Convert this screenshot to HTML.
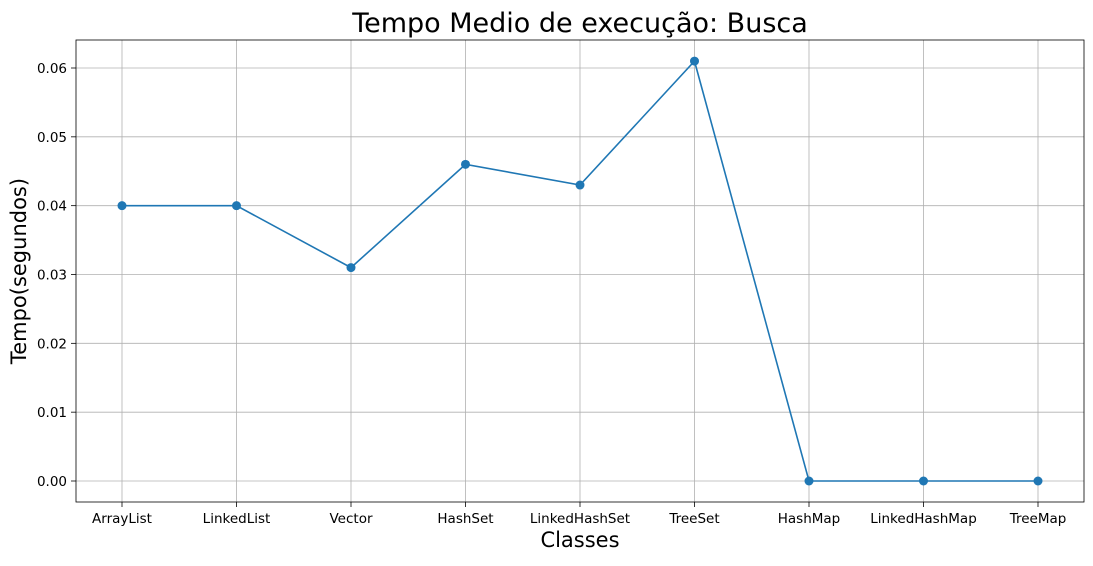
<!DOCTYPE html>
<html><head><meta charset="utf-8"><style>
body{margin:0;background:#fff;}
svg text{font-family:"DejaVu Sans","Liberation Sans",sans-serif;}
</style></head><body>
<svg id="chart" width="1093" height="561" xmlns="http://www.w3.org/2000/svg">
<rect width="1093" height="561" fill="#fff"/>
<g id="grid"></g>
<g id="axes"></g>
<g id="series"></g>
<text x="580" y="32" text-anchor="middle" font-size="27">Tempo Medio de execução: Busca</text>
<text x="580" y="547" text-anchor="middle" font-size="21">Classes</text>
<text transform="translate(26,271) rotate(-90)" text-anchor="middle" font-size="21">Tempo(segundos)</text>
</svg>
<script>
const categories=["ArrayList","LinkedList","Vector","HashSet","LinkedHashSet","TreeSet","HashMap","LinkedHashMap","TreeMap"];
const values=[0.040,0.040,0.031,0.046,0.043,0.061,0,0,0];
const yTicks=[0,0.01,0.02,0.03,0.04,0.05,0.06];
const yTickLabels=["0.00","0.01","0.02","0.03","0.04","0.05","0.06"];
const NS="http://www.w3.org/2000/svg";
const L=76,R=1084,T=40,B=502;
function xs(i){return 122+i*(1038-122)/(categories.length-1);}
function ys(v){return 481-v*(481-68)/0.06;}
function mk(tag,attrs,parent){const e=document.createElementNS(NS,tag);for(const k in attrs)e.setAttribute(k,attrs[k]);parent.appendChild(e);return e;}
const grid=document.getElementById('grid'),axes=document.getElementById('axes'),series=document.getElementById('series');
categories.forEach((c,i)=>{
 const g=mk('line',{x1:xs(i),x2:xs(i),y1:T,y2:B,stroke:'#b0b0b0','stroke-width':0.8},grid);
 
 
 const t=mk('line',{x1:xs(i),x2:xs(i),y1:B,y2:B+5,stroke:'#000','stroke-width':0.8},axes);
 
 
 const tx=mk('text',{x:xs(i),y:B+21,'text-anchor':'middle','font-size':13.5},axes);
 tx.textContent=c;
 
 
});
yTicks.forEach((v,i)=>{
 const g=mk('line',{x1:L,x2:R,y1:ys(v),y2:ys(v),stroke:'#b0b0b0','stroke-width':0.8},grid);
 
 
 const t=mk('line',{x1:L-5,x2:L,y1:ys(v),y2:ys(v),stroke:'#000','stroke-width':0.8},axes);
 
 
 const tx=mk('text',{x:L-9,y:ys(v)+5,'text-anchor':'end','font-size':13.5},axes);
 tx.textContent=yTickLabels[i];
 
 
});
const frame=mk('rect',{x:L,y:T,width:R-L,height:B-T,fill:'none',stroke:'#000','stroke-width':0.8},axes);


const pl=mk('polyline',{points:values.map((v,i)=>xs(i)+','+ys(v)).join(' '),fill:'none',stroke:'#1f77b4','stroke-width':1.6},series);


values.forEach((v,i)=>{
 const c=mk('circle',{cx:xs(i),cy:ys(v),r:4.5,fill:'#1f77b4'},series);
 
 
});
</script>
</body></html>
